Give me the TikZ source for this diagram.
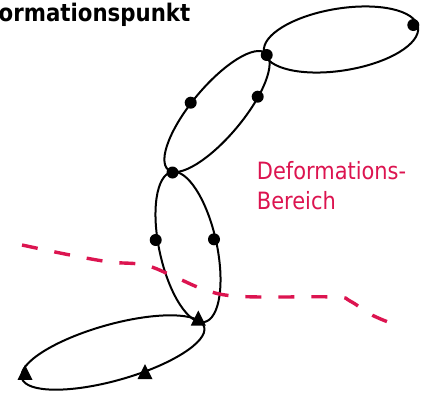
\documentclass[tikz,border=0pt]{standalone}
\usepackage{fontspec}
\setmainfont{DejaVu Sans}
\usepackage{graphicx}
\definecolor{defred}{RGB}{220,20,80}
\begin{document}
\begin{tikzpicture}[x=1pt,y=1pt,
  loop/.style={draw=black, line width=2pt},
  dot/.style={circle, fill=black, inner sep=0pt, minimum size=12pt},
  tri/.pic={\fill[black] (-7.5,-6.5) -- (7.5,-6.5) -- (0,8.5) -- cycle;},
  zone/.style={draw=defred, line width=3.4pt, dash pattern=on 16pt off 17pt},
  lbl/.style={text=defred, font=\fontsize{23.8}{30}\selectfont, anchor=base west, inner sep=0pt},
  ttl/.style={font=\bfseries\fontsize{24.2}{28}\selectfont, anchor=base west, inner sep=0pt}]
\useasboundingbox (0,0) rectangle (427,392);

% title
\node[ttl] (title) at (-1.5,370.3) {\scalebox{0.88}[1]{ormationspunkt}};

% loops
\draw[loop, rotate around={9.2:(341,352.5)}] (341,352.5) ellipse [x radius=78, y radius=31];
\draw[loop, rotate around={50:(217,280.5)}] (217,280.5) ellipse [x radius=76, y radius=25.5];
\draw[loop, rotate around={102.4:(188,145)}] (188,145) ellipse [x radius=76.8, y radius=28.7];
\draw[loop, rotate around={15.7:(113,39.5)}] (113,39.5) ellipse [x radius=94.7, y radius=28];

% deformation zone boundary
\draw[zone] plot[smooth, tension=0.6] coordinates {(22,147) (70,137) (110,130) (145,127) (175,115) (200,104) (225,97) (260,95) (335,95) (350,91) (370,78) (388,70)};

% label
\node[lbl] (lab1) at (256.7,212.7) {\scalebox{0.88}[1]{Deformations-}};
\node[lbl] (lab2) at (256.7,182.7) {\scalebox{0.88}[1]{Bereich}};

% dots
\node[dot] (d1) at (413.3,367) {};
\node[dot] (d2) at (266.7,337) {};
\node[dot] (d3) at (190.7,289.3) {};
\node[dot] (d4) at (257.7,295.3) {};
\node[dot] (d5) at (172.5,219.5) {};
\node[dot] (d6) at (155.7,152) {};
\node[dot] (d7) at (214,152.7) {};

% triangles
\coordinate (t1) at (198.3,73);
\coordinate (t2) at (145,19.3);
\coordinate (t3) at (25,18.7);
\pic at (t1) {tri};
\pic at (t2) {tri};
\pic at (t3) {tri};
\end{tikzpicture}
\end{document}
